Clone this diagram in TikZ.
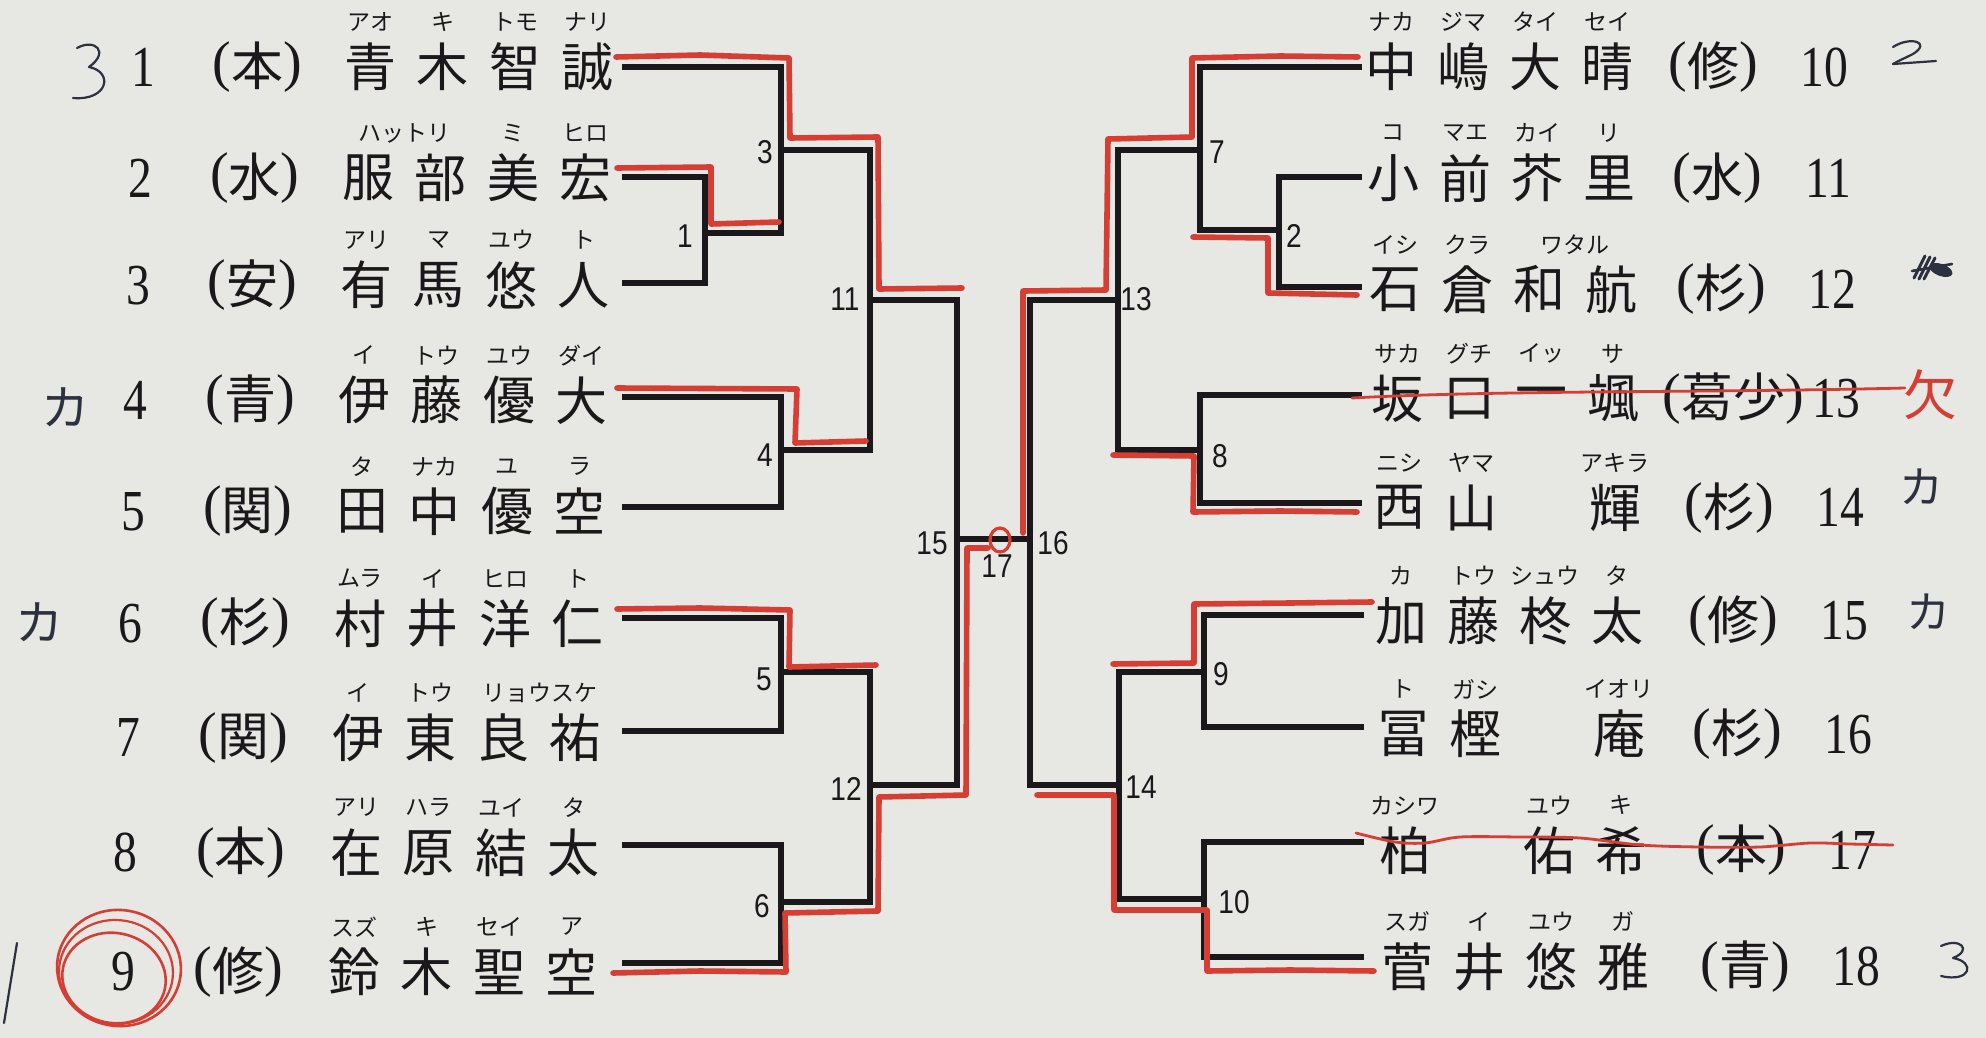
\documentclass[tikz,border=0pt]{standalone}
\usepackage{fontspec}
\newfontfamily\cjk{Noto Sans CJK JP}
\newfontfamily\ser{Liberation Serif}
\newfontfamily\lsans{Liberation Sans}
\definecolor{paper}{RGB}{231,231,228}
\definecolor{ink}{RGB}{26,24,26}
\definecolor{marker}{RGB}{214,62,52}
\definecolor{pen}{RGB}{45,48,62}
\newcounter{fc}
\tikzset{
  brk/.style={draw=ink, line width=3.3pt, line join=miter},
  redpath/.style={draw=marker, line width=2.8pt, line join=round, line cap=round},
  redpen/.style={draw=marker, line width=1.4pt, line cap=round},
  penline/.style={draw=pen, line width=1.1pt, line cap=round, line join=round},
  kanji/.style={font=\cjk\fontsize{26}{26}\selectfont, text=ink, inner sep=0pt},
  furi/.style={font=\cjk\fontsize{11.5}{11.5}\selectfont, text=ink, inner sep=0pt},
  seed/.style={font=\ser\fontsize{29}{29}\selectfont, text=ink, inner sep=0pt},
  mlabel/.style={font=\lsans\fontsize{16.5}{16.5}\selectfont, text=ink, inner sep=0pt},
  handtext/.style={font=\cjk\fontsize{24}{24}\selectfont, text=pen, inner sep=0pt},
}
\newcommand\affp[1]{\raisebox{2.4pt}{\ser\fontsize{28}{28}\selectfont(}#1\raisebox{2.4pt}{\ser\fontsize{28}{28}\selectfont)}}
\newcommand\ml[1]{\scalebox{0.85}[1]{#1}}
% left row: index, line y, seed, affiliation, four kanji
\newcommand\lrow[8]{%
  \pgfmathsetmacro\yy{#2+1.1*#1}%
  \node[seed] (ls#1) at ({143-2.5*#1},\yy) {\scalebox{0.82}[1]{#3}};
  \node[kanji] (la#1) at ({257-2.3*#1},\yy) {\affp{#4}};
  \node[kanji] (lka#1) at ({370-2*#1},\yy) {#5};
  \node[kanji] (lkb#1) at ({442.6-2*#1},\yy) {#6};
  \node[kanji] (lkc#1) at ({515.2-2*#1},\yy) {#7};
  \node[kanji] (lkd#1) at ({587.8-2*#1},\yy) {#8};
}
\newcommand\lfu[4]{%
  \stepcounter{fc}%
  \pgfmathsetmacro\xx{370+72.6*(#3-1)-2*#1}%
  \pgfmathsetmacro\yf{#2+1.1*#1-45}%
  \node[furi] (f\thefc) at (\xx,\yf) {#4};
}
% right row: index, line y, four kanji, affiliation, number, aff shift
\newcommand\rrow[9]{%
  \pgfmathsetmacro\yy{#2+1.2*#1}%
  \node[kanji] (rka#1) at ({1391+2*#1},\yy) {#3};
  \node[kanji] (rkb#1) at ({1463+2*#1},\yy) {#4};
  \node[kanji] (rkc#1) at ({1535+2*#1},\yy) {#5};
  \node[kanji] (rkd#1) at ({1607+2*#1},\yy) {#6};
  \node[kanji] (ra#1) at ({1713+4*#1+#9},\yy) {\affp{#7}};
  \node[seed] (rn#1) at ({1824+4*#1},\yy) {\scalebox{0.82}[1]{#8}};
}
\newcommand\rfu[4]{%
  \stepcounter{fc}%
  \pgfmathsetmacro\xx{1391+72*(#3-1)+2*#1}%
  \pgfmathsetmacro\yf{#2+1.2*#1-45}%
  \node[furi] (f\thefc) at (\xx,\yf) {#4};
}
\begin{document}
\begin{tikzpicture}[x=0.5pt,y=-0.5pt]
\fill[paper] (0,0) rectangle (1986,1038);
\useasboundingbox (0,0) rectangle (1986,1038);

% ---------- bracket coordinates ----------
\coordinate (r1) at (622,67);
\coordinate (r2) at (622,177);
\coordinate (r3) at (622,283);
\coordinate (r4) at (622,397);
\coordinate (r5) at (622,507);
\coordinate (r6) at (622,618);
\coordinate (r7) at (622,731);
\coordinate (r8) at (622,845);
\coordinate (r9) at (622,963);
\coordinate (r10) at (1362,67);
\coordinate (r11) at (1362,177);
\coordinate (r12) at (1362,287);
\coordinate (r13) at (1362,395);
\coordinate (r14) at (1362,503);
\coordinate (r15) at (1364,615);
\coordinate (r16) at (1364,727);
\coordinate (r17) at (1364,842);
\coordinate (r18) at (1364,957);

\coordinate (m1) at (705,233);
\coordinate (m3) at (781,150);
\coordinate (m4) at (781,450);
\coordinate (m5) at (781,672);
\coordinate (m6) at (781,902);
\coordinate (m11) at (870,300);
\coordinate (m12) at (870,785);
\coordinate (m15) at (957,539);
\coordinate (m16) at (1030,539);
\coordinate (m2) at (1279,230);
\coordinate (m7) at (1200,150);
\coordinate (m8) at (1200,450);
\coordinate (m9) at (1204,672);
\coordinate (m10) at (1204,899);
\coordinate (m13) at (1118,300);
\coordinate (m14) at (1119,785);

% ---------- bracket lines ----------
\draw[brk] (r2) -| (m1);  \draw[brk] (r3) -| (m1);
\draw[brk] (r1) -| (m3);  \draw[brk] (m1) -| (m3);
\draw[brk] (r4) -| (m4);  \draw[brk] (r5) -| (m4);
\draw[brk] (m3) -| (m11); \draw[brk] (m4) -| (m11);
\draw[brk] (r6) -| (m5);  \draw[brk] (r7) -| (m5);
\draw[brk] (r8) -| (m6);  \draw[brk] (r9) -| (m6);
\draw[brk] (m5) -| (m12); \draw[brk] (m6) -| (m12);
\draw[brk] (m11) -| (m15); \draw[brk] (m12) -| (m15);
\draw[brk] (r11) -| (m2); \draw[brk] (r12) -| (m2);
\draw[brk] (r10) -| (m7); \draw[brk] (m2) -| (m7);
\draw[brk] (r13) -| (m8); \draw[brk] (r14) -| (m8);
\draw[brk] (m7) -| (m13); \draw[brk] (m8) -| (m13);
\draw[brk] (r15) -| (m9); \draw[brk] (r16) -| (m9);
\draw[brk] (r17) -| (m10); \draw[brk] (r18) -| (m10);
\draw[brk] (m9) -| (m14); \draw[brk] (m10) -| (m14);
\draw[brk] (m13) -| (m16); \draw[brk] (m14) -| (m16);
\draw[brk] (m15) -- (m16);

% ---------- match numbers ----------
\node[mlabel] (n1) at (685,236) {\ml{1}};
\node[mlabel] (n3) at (765,152) {\ml{3}};
\node[mlabel] (n4) at (765,455) {\ml{4}};
\node[mlabel] (n11) at (845,299) {\ml{11}};
\node[mlabel] (n5) at (764,679) {\ml{5}};
\node[mlabel] (n6) at (762,906) {\ml{6}};
\node[mlabel] (n12) at (846,789) {\ml{12}};
\node[mlabel] (n15) at (932,543) {\ml{15}};
\node[mlabel] (n16) at (1053,543) {\ml{16}};
\node[mlabel] (n17) at (997,566) {\ml{17}};
\node[mlabel] (n7) at (1217,152) {\ml{7}};
\node[mlabel] (n2) at (1294,236) {\ml{2}};
\node[mlabel] (n13) at (1136,299) {\ml{13}};
\node[mlabel] (n8) at (1220,456) {\ml{8}};
\node[mlabel] (n9) at (1221,674) {\ml{9}};
\node[mlabel] (n10) at (1234,902) {\ml{10}};
\node[mlabel] (n14) at (1141,787) {\ml{14}};

% ---------- left entries ----------
\lrow{0}{67}{1}{本}{青}{木}{智}{誠}
\lfu{0}{67}{1}{アオ}\lfu{0}{67}{2}{キ}\lfu{0}{67}{3}{トモ}\lfu{0}{67}{4}{ナリ}
\lrow{1}{177}{2}{水}{服}{部}{美}{宏}
\lfu{1}{177}{1.5}{ハットリ}\lfu{1}{177}{3}{ミ}\lfu{1}{177}{4}{ヒロ}
\lrow{2}{283}{3}{安}{有}{馬}{悠}{人}
\lfu{2}{283}{1}{アリ}\lfu{2}{283}{2}{マ}\lfu{2}{283}{3}{ユウ}\lfu{2}{283}{4}{ト}
\lrow{3}{397}{4}{青}{伊}{藤}{優}{大}
\lfu{3}{397}{1}{イ}\lfu{3}{397}{2}{トウ}\lfu{3}{397}{3}{ユウ}\lfu{3}{397}{4}{ダイ}
\lrow{4}{507}{5}{関}{田}{中}{優}{空}
\lfu{4}{507}{1}{タ}\lfu{4}{507}{2}{ナカ}\lfu{4}{507}{3}{ユ}\lfu{4}{507}{4}{ラ}
\lrow{5}{618}{6}{杉}{村}{井}{洋}{仁}
\lfu{5}{618}{1}{ムラ}\lfu{5}{618}{2}{イ}\lfu{5}{618}{3}{ヒロ}\lfu{5}{618}{4}{ト}
\lrow{6}{731}{7}{関}{伊}{東}{良}{祐}
\lfu{6}{731}{1}{イ}\lfu{6}{731}{2}{トウ}\lfu{6}{731}{3.5}{リョウスケ}
\lrow{7}{845}{8}{本}{在}{原}{結}{太}
\lfu{7}{845}{1}{アリ}\lfu{7}{845}{2}{ハラ}\lfu{7}{845}{3}{ユイ}\lfu{7}{845}{4}{タ}
\lrow{8}{963}{9}{修}{鈴}{木}{聖}{空}
\lfu{8}{963}{1}{スズ}\lfu{8}{963}{2}{キ}\lfu{8}{963}{3}{セイ}\lfu{8}{963}{4}{ア}

% ---------- right entries ----------
\rrow{0}{67}{中}{嶋}{大}{晴}{修}{10}{0}
\rfu{0}{67}{1}{ナカ}\rfu{0}{67}{2}{ジマ}\rfu{0}{67}{3}{タイ}\rfu{0}{67}{4}{セイ}
\rrow{1}{177}{小}{前}{芥}{里}{水}{11}{0}
\rfu{1}{177}{1}{コ}\rfu{1}{177}{2}{マエ}\rfu{1}{177}{3}{カイ}\rfu{1}{177}{4}{リ}
\rrow{2}{287}{石}{倉}{和}{航}{杉}{12}{0}
\rfu{2}{287}{1}{イシ}\rfu{2}{287}{2}{クラ}\rfu{2}{287}{3.5}{ワタル}
\rrow{3}{395}{坂}{口}{一}{颯}{葛少}{13}{8}
\rfu{3}{395}{1}{サカ}\rfu{3}{395}{2}{グチ}\rfu{3}{395}{3}{イッ}\rfu{3}{395}{4}{サ}
\rrow{4}{503}{西}{山}{}{輝}{杉}{14}{0}
\rfu{4}{503}{1}{ニシ}\rfu{4}{503}{2}{ヤマ}\rfu{4}{503}{4}{アキラ}
\rrow{5}{615}{加}{藤}{柊}{太}{修}{15}{0}
\rfu{5}{615}{1}{カ}\rfu{5}{615}{2}{トウ}\rfu{5}{615}{3}{シュウ}\rfu{5}{615}{4}{タ}
\rrow{6}{727}{冨}{樫}{}{庵}{杉}{16}{0}
\rfu{6}{727}{1}{ト}\rfu{6}{727}{2}{ガシ}\rfu{6}{727}{4}{イオリ}
\rrow{7}{842}{柏}{}{佑}{希}{本}{17}{0}
\rfu{7}{842}{1}{カシワ}\rfu{7}{842}{3}{ユウ}\rfu{7}{842}{4}{キ}
\rrow{8}{957}{菅}{井}{悠}{雅}{青}{18}{0}
\rfu{8}{957}{1}{スガ}\rfu{8}{957}{2}{イ}\rfu{8}{957}{3}{ユウ}\rfu{8}{957}{4}{ガ}

% ---------- red marker paths ----------
\draw[redpath] (616,57) -- (700,55) -- (789,58) -- (790,138) -- (878,137) -- (879,289) -- (962,288);
\draw[redpath] (617,168) -- (711,167) -- (711,224) -- (779,222);
\draw[redpath] (617,388) -- (797,389) -- (795,443) -- (866,441);
\draw[redpath] (617,609) -- (700,608) -- (790,610) -- (789,667) -- (876,665);
\draw[redpath] (613,973) -- (700,971) -- (786,972) -- (785,913) -- (878,911) -- (879,797) -- (966,795) -- (967,548) -- (988,548);
\draw[marker, line width=1.6pt] (1000,540) ellipse [x radius=10, y radius=12];
\draw[redpath] (1358,57) -- (1280,56) -- (1192,58) -- (1192,137) -- (1108,139) -- (1106,290) -- (1023,291) -- (1023,533);
\draw[redpath] (1357,295) -- (1268,293) -- (1268,238) -- (1193,237);
\draw[redpath] (1357,512) -- (1280,511) -- (1193,512) -- (1194,456) -- (1113,455);
\draw[redpath] (1372,602) -- (1290,603) -- (1194,604) -- (1194,663) -- (1113,664);
\draw[redpath] (1374,971) -- (1290,970) -- (1207,971) -- (1207,910) -- (1114,910) -- (1114,795) -- (1037,795);

% ---------- red strike-throughs and marks ----------
\draw[redpen] (1352,398) .. controls (1500,390) and (1700,393) .. (1905,388);
\draw[redpen] plot[smooth] coordinates {(1356,833) (1395,842) (1425,843) (1460,837) (1520,837) (1580,838) (1640,845) (1700,847) (1760,847) (1810,843) (1850,844) (1893,845)};
\node[font=\cjk\fontsize{27}{27}\selectfont, text=marker, inner sep=0pt] (absent) at (1930,395) {欠};
\draw[marker, line width=1.3pt, rotate around={-8:(119,968)}] (119,968) ellipse [x radius=62, y radius=58];
\draw[marker, line width=1.3pt, rotate around={-12:(114,978)}] (114,978) ellipse [x radius=52, y radius=45];
\draw[marker, line width=1.1pt, rotate around={-5:(116,972)}] (116,972) ellipse [x radius=57, y radius=52];

% ---------- pen annotations ----------
\draw[penline] (77,48) .. controls (95,38) and (110,52) .. (89,67) .. controls (114,72) and (108,101) .. (73,98);
\node[handtext] (hk4) at (65,407) {カ};
\node[handtext] (hk6) at (40,622) {カ};
\draw[penline] (17,943) -- (4,1023);
\draw[penline] (1893,47) .. controls (1910,36) and (1932,42) .. (1913,54) .. controls (1905,58) and (1898,61) .. (1893,64);
\draw[penline] (1893,64) -- (1936,61);
\draw[draw=pen, line width=1.5pt, line cap=round] (1914,278) -- (1925,256);
\draw[draw=pen, line width=1.5pt, line cap=round] (1919,279) -- (1930,257);
\draw[draw=pen, line width=1.5pt, line cap=round] (1924,279) -- (1935,258);
\draw[draw=pen, line width=1.3pt, line cap=round] (1912,271) -- (1952,264);
\fill[pen, rotate around={-20:(1941,270)}] (1941,270) ellipse [x radius=12, y radius=6];
\node[handtext, font=\cjk\fontsize{22}{22}\selectfont] (hk14) at (1921,487) {カ};
\node[handtext, font=\cjk\fontsize{22}{22}\selectfont] (hk15) at (1928,612) {カ};
\draw[penline] (1941,946) .. controls (1960,937) and (1973,950) .. (1953,958) .. controls (1976,962) and (1971,983) .. (1941,976);
\end{tikzpicture}
\end{document}
